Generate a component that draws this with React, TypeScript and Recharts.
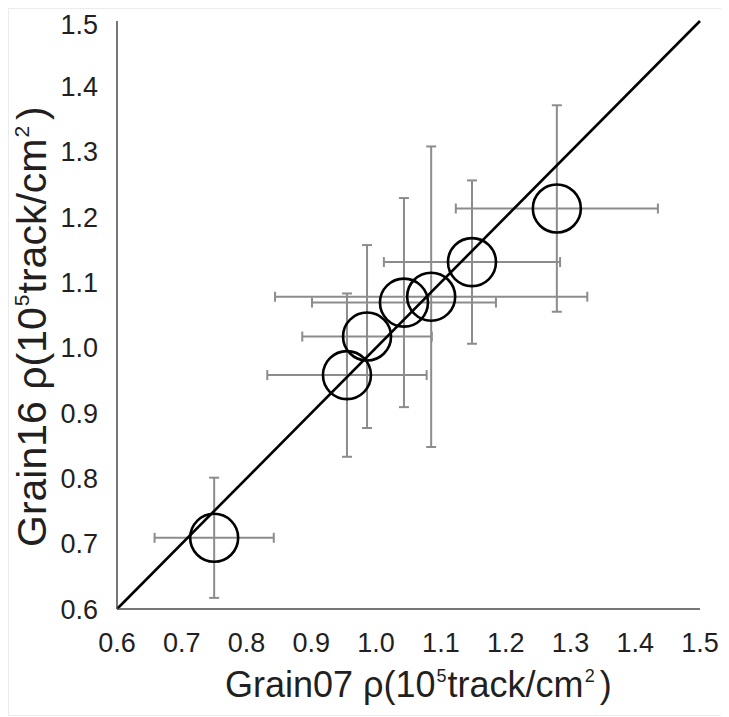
import React from "react";
import { ScatterChart, Scatter, XAxis, YAxis, ErrorBar, ReferenceLine } from "recharts";

const grain07 = [0.75, 0.955, 0.986, 1.043, 1.085, 1.148, 1.279];
const grain16 = [0.709, 0.958, 1.017, 1.069, 1.078, 1.131, 1.213];
const grain07Err = [0.092, 0.123, 0.1, 0.142, 0.241, 0.136, 0.156];
const grain16Err = [0.092, 0.125, 0.14, 0.16, 0.23, 0.125, 0.158];
const axisTicks = [0.6, 0.7, 0.8, 0.9, 1.0, 1.1, 1.2, 1.3, 1.4, 1.5];
const xTitle = ["Grain07 \u03C1(10", "5", "track/cm", "2", ")"];
const yTitle = ["Grain16 \u03C1(10", "5", "track/cm", "2", ")"];

const data = grain07.map((x, i) => ({
  x,
  y: grain16[i],
  ex: grain07Err[i],
  ey: grain16Err[i],
}));

const FONT = "'Liberation Sans', Arial, Helvetica, sans-serif";
const TEXT = "#231f20";

const Ring = (props: any) => {
  const { cx, cy } = props;
  if (cx == null || cy == null) return null;
  return <circle cx={cx} cy={cy} r={24} fill="none" stroke="#000" strokeWidth={2.6} />;
};

const Title = ({
  parts,
  transform,
  size,
}: {
  parts: string[];
  transform: string;
  size: number;
}) => {
  const sup = Math.round(size * 0.5);
  const rise = Math.round(size * 0.42);
  return (
    <text x={0} y={0} transform={transform} fontFamily={FONT} fontSize={size} fill={TEXT}>
      <tspan>{parts[0]}</tspan>
      <tspan fontSize={sup} dx={1} dy={-rise}>{parts[1]}</tspan>
      <tspan dx={1} dy={rise}>{parts[2]}</tspan>
      <tspan fontSize={sup} dx={1} dy={-rise}>{parts[3]}</tspan>
      <tspan dx={Math.round(size * 0.15)} dy={rise}>{parts[4]}</tspan>
    </text>
  );
};

const XTitle = () => <Title parts={xTitle} transform="translate(216,688)" size={36} />;
const YTitle = () => <Title parts={yTitle} transform="translate(37,538) rotate(-90)" size={41} />;

export default function App() {
  return (
    <div
      style={{
        width: 718,
        height: 706,
        border: "1px solid #ececec",
        background: "#fff",
      }}
    >
      <ScatterChart
        width={718}
        height={706}
        margin={{ top: 12, right: 27, bottom: 0, left: 0 }}
      >
        <XAxis
          type="number"
          dataKey="x"
          domain={[0.6, 1.5]}
          ticks={axisTicks}
          allowDataOverflow
          height={106}
          tickFormatter={(v: number) => v.toFixed(1)}
          tickLine={false}
          tickSize={0}
          tickMargin={24}
          axisLine={{ stroke: "#4a4a4a", strokeWidth: 1.5 }}
          tick={{ fontSize: 27, fill: TEXT, fontFamily: FONT }}
          label={{ content: () => <XTitle /> }}
        />
        <YAxis
          type="number"
          dataKey="y"
          domain={[0.6, 1.5]}
          ticks={axisTicks}
          allowDataOverflow
          width={108}
          tickFormatter={(v: number) => v.toFixed(1)}
          tickLine={false}
          tickSize={0}
          tickMargin={19}
          axisLine={{ stroke: "#4a4a4a", strokeWidth: 1.5 }}
          tick={{ fontSize: 27, fill: TEXT, fontFamily: FONT }}
          label={{ content: () => <YTitle /> }}
        />
        <Scatter data={data} shape={Ring} isAnimationActive={false}>
          <ErrorBar dataKey="ex" direction="x" stroke="#8c8c8c" strokeWidth={2} width={5} />
          <ErrorBar dataKey="ey" direction="y" stroke="#8c8c8c" strokeWidth={2} width={5} />
        </Scatter>
        <ReferenceLine
          segment={[
            { x: 0.6, y: 0.6 },
            { x: 1.5, y: 1.5 },
          ]}
          stroke="#000"
          strokeWidth={2.6}
        />
      </ScatterChart>
    </div>
  );
}
